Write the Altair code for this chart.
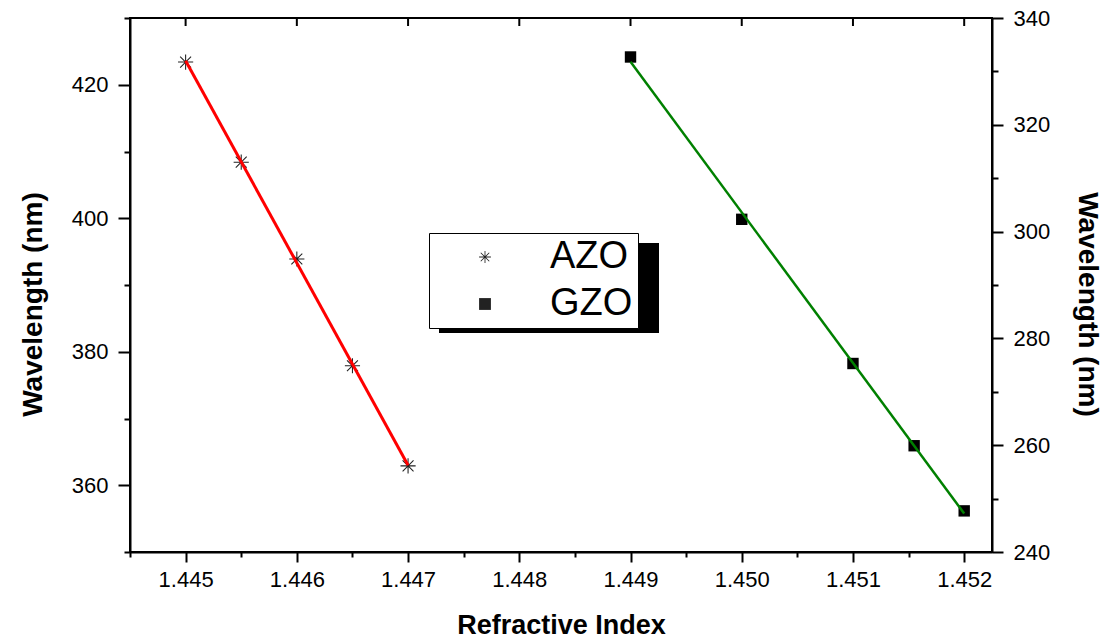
import altair as alt
import pandas as pd

azo_index = [1.445, 1.4455, 1.446, 1.4465, 1.447]
azo_wave = [423.4, 408.4, 393.9, 377.9, 362.9]
gzo_index = [1.449, 1.450, 1.451, 1.45155, 1.452]
gzo_wave = [332.7, 302.3, 275.3, 259.9, 247.7]
series_names = ["AZO", "GZO"]

x_ticks = [1.4445 + 0.0005 * i for i in range(16)]
x_major = [1.445, 1.446, 1.447, 1.448, 1.449, 1.450, 1.451, 1.452]
left_ticks = [350, 360, 370, 380, 390, 400, 410, 420, 430]
right_ticks = [240, 250, 260, 270, 280, 290, 300, 310, 320, 330, 340]

azo = pd.DataFrame({"x": azo_index, "y": azo_wave, "series": "AZO"})
gzo = pd.DataFrame({"x": gzo_index, "y": gzo_wave, "series": "GZO"})
top_df = pd.DataFrame({"x": x_major})

FONT = "Liberation Sans"
# thin filled 8-armed asterisk
ASTERISK = (
    "M-1,-0.07L1,-0.07L1,0.07L-1,0.07Z"
    "M-0.07,-1L0.07,-1L0.07,1L-0.07,1Z"
    "M-0.67,-0.77L0.77,0.67L0.67,0.77L-0.77,-0.67Z"
    "M-0.77,0.67L0.67,-0.77L0.77,-0.67L-0.67,0.77Z"
)
x_dom = [1.4445, 1.45225]

shape_scale = alt.Scale(domain=series_names, range=[ASTERISK, "square"])
legend = alt.Legend(
    title=None, orient="none", legendX=299, legendY=215,
    labelFontSize=38, labelFont=FONT, labelColor="black",
    symbolSize=140, symbolOffset=32, labelOffset=46,
    symbolFillColor="black", symbolStrokeWidth=0, symbolOpacity=1,
    padding=5, rowPadding=9, strokeColor="black", fillColor="white",
    labelExpr="datum.label + '\u00a0'",
)

x_major_test = "abs(round(datum.value*1000) - datum.value*1000) < 0.01"
x_axis = alt.Axis(
    values=x_ticks, format=".3f", title="Refractive Index",
    labelExpr=f"{x_major_test} ? datum.label : ''",
    tickSize={"condition": {"test": x_major_test, "value": 10}, "value": 5},
    labelPadding=7, titleFontSize=27, titleY=81, titleBaseline="alphabetic",
)
left_axis = alt.Axis(
    values=left_ticks, title="Wavelength (nm)",
    labelExpr="datum.value % 20 == 0 ? datum.label : ''",
    tickSize={"condition": {"test": "datum.value % 20 == 0", "value": 12}, "value": 6},
    labelPadding=10, titleFontSize=28, titleX=-97, titleY=286,
    titleBaseline="middle",
)
right_axis = alt.Axis(
    values=right_ticks, title="Wavelength (nm)", orient="right",
    labelExpr="datum.value % 20 == 0 ? datum.label : ''",
    tickSize={"condition": {"test": "datum.value % 20 == 0", "value": 11}, "value": 6},
    labelPadding=10, titleFontSize=28, titleX=94, titleY=286,
    titleBaseline="middle",
)

xs = alt.Scale(domain=x_dom, nice=False, zero=False)
ys_left = alt.Scale(domain=[350, 430], nice=False, zero=False)
ys_right = alt.Scale(domain=[240, 340], nice=False, zero=False)

azo_pts = alt.Chart(azo).mark_point(
    filled=True, fill="#222", strokeWidth=0, size=230, opacity=1
).encode(
    x=alt.X("x:Q", scale=xs, axis=x_axis),
    y=alt.Y("y:Q", scale=ys_left, axis=left_axis),
    shape=alt.Shape("series:N", scale=shape_scale, legend=legend),
)
azo_line = alt.Chart(azo).transform_regression("x", "y").mark_line(
    color="red", strokeWidth=3
).encode(x="x:Q", y="y:Q")

gzo_pts = alt.Chart(gzo).mark_point(
    filled=True, fill="black", strokeWidth=0, size=130, opacity=1
).encode(
    x=alt.X("x:Q", scale=xs, axis=None),
    y=alt.Y("y:Q", scale=ys_right, axis=right_axis),
    shape=alt.Shape("series:N", scale=shape_scale, legend=legend),
)
gzo_line = alt.Chart(gzo).transform_regression("x", "y").mark_line(
    color="#008000", strokeWidth=2.5
).encode(x="x:Q", y="y:Q")

top_ticks = alt.Chart(top_df).mark_rule(color="black", strokeWidth=2).encode(
    x=alt.X("x:Q", scale=xs, axis=None),
    y=alt.value(0), y2=alt.value(8),
)

shadow = alt.Chart(pd.DataFrame({"a": [0]})).mark_rect(color="black").encode(
    x=alt.value(309), x2=alt.value(529), y=alt.value(225), y2=alt.value(315)
)

chart = alt.layer(
    shadow,
    alt.layer(azo_pts, azo_line),
    alt.layer(gzo_pts, gzo_line),
    top_ticks,
).resolve_scale(x="independent", y="independent").properties(
    width=862, height=534,
    autosize=alt.AutoSizeParams(type="none"),
    padding={"left": 130, "top": 18, "right": 122, "bottom": 87},
).configure_view(
    stroke="black", strokeWidth=2
).configure_axis(
    labelFont=FONT, titleFont=FONT, labelFontSize=22, labelColor="black",
    titleColor="black", titleFontWeight="bold", domainColor="black",
    domainWidth=2, tickColor="black", tickWidth=2, grid=False,
)

chart.save("out.html", embed_options={"renderer": "svg", "actions": False})
